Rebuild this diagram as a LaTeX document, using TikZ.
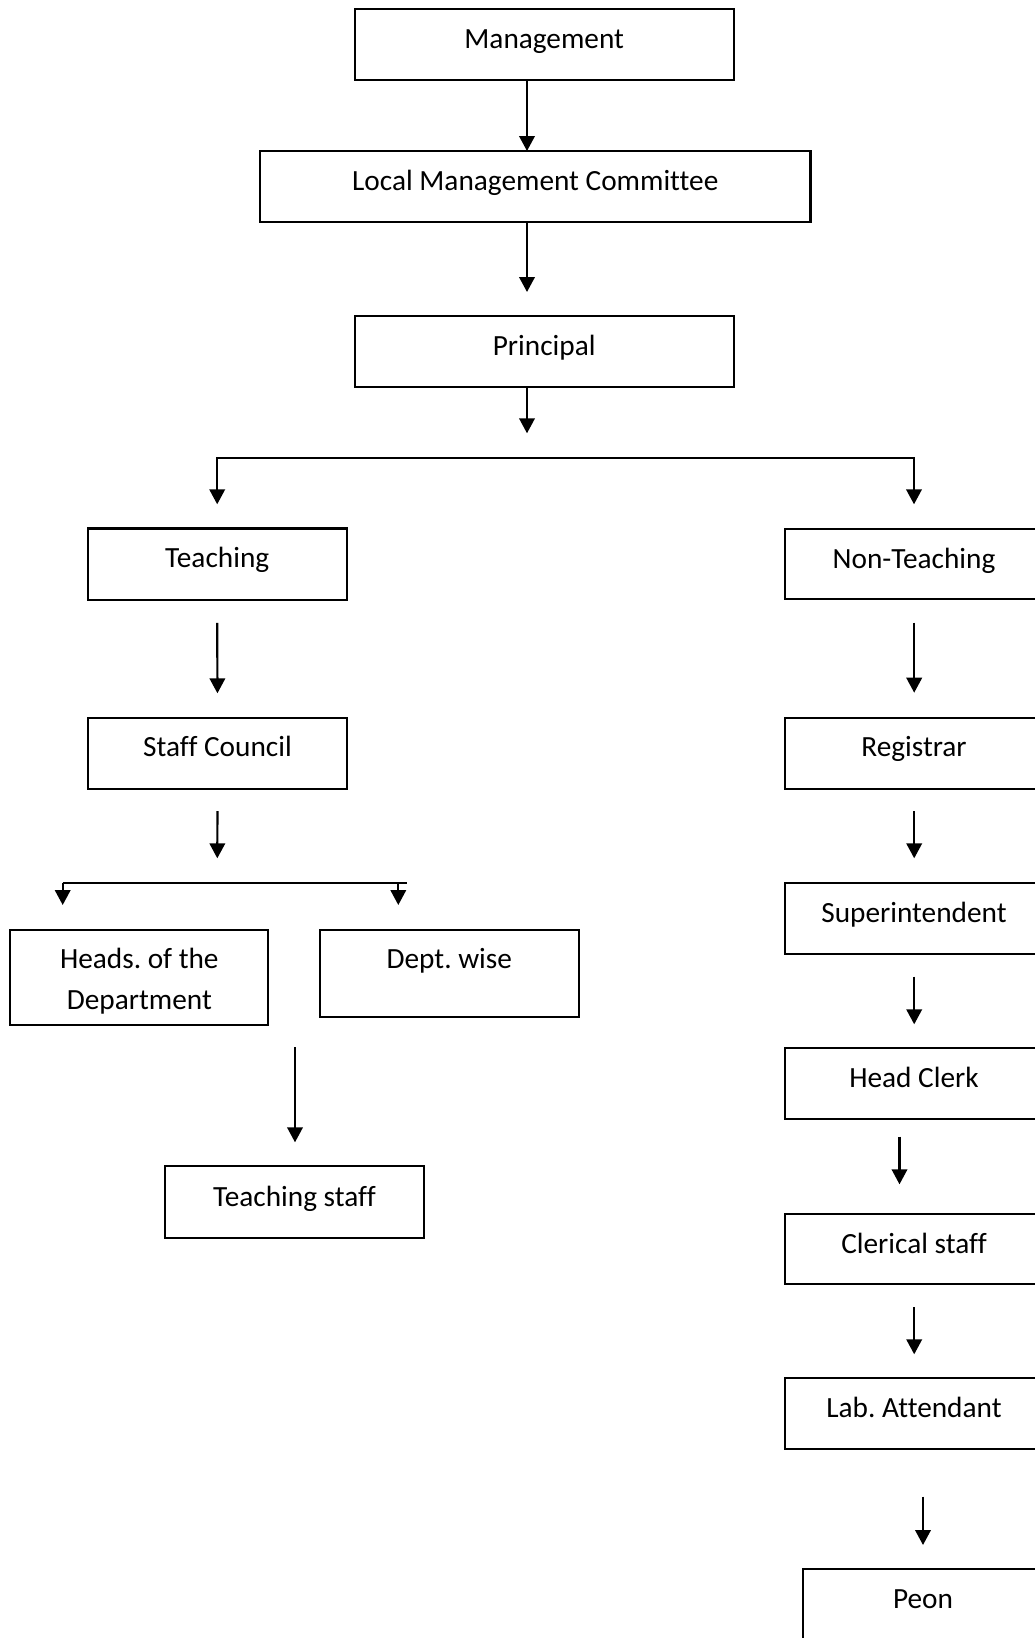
\documentclass[tikz,border=0pt]{standalone}
\usepackage{fontspec}
\setmainfont{Carlito}[Ligatures=NoCommon]
\frenchspacing
\usetikzlibrary{arrows.meta,calc}
\begin{document}
\begin{tikzpicture}[x=1pt,y=-1pt,
  box/.style={draw, line width=2.1pt, inner sep=0pt, outer sep=0pt},
  lbl/.style={anchor=base, inner sep=0pt, font=\fontsize{29.3}{40}\selectfont},
  conn/.style={line width=2.2pt},
  arr/.style={line width=2.2pt, -{Triangle[width=15.5pt,length=15pt]}}]
\useasboundingbox (0,0) rectangle (1035,1638);
\clip (0,0) rectangle (1035,1638);
% --- top column
\node[box, minimum width=379pt, minimum height=70.7pt] (mgmt) at (544.2,44.65) {};
\node[lbl] (mgmtT) at ($(mgmt.north)+(0,39)$) {Management};
\node[box, minimum width=550.5pt, minimum height=70.7pt] (lmc) at (535.25,186.35) {};
\node[lbl] (lmcT) at ($(lmc.north)+(0,39)$) {Local Management Committee};
\node[box, minimum width=379pt, minimum height=71pt] (princ) at (544.2,351.8) {};
\node[lbl] (princT) at ($(princ.north)+(0,39)$) {Principal};
% --- teaching branch
\node[box, minimum width=259pt, minimum height=71.3pt] (teach) at (217.2,564.15) {};
\node[lbl] (teachT) at ($(teach.north)+(0,39)$) {Teaching};
\node[box, minimum width=259pt, minimum height=71.3pt] (staff) at (217.5,753.35) {};
\node[lbl] (staffT) at ($(staff.north)+(0,39)$) {Staff Council};
\node[box, minimum width=258.1pt, minimum height=94.7pt] (heads) at (139.35,977.35) {};
\node[lbl] (headsT1) at ($(heads.north)+(0,38.5)$) {Heads. of the};
\node[lbl] (headsT2) at ($(heads.north)+(0,79)$) {Department};
\node[box, minimum width=258.6pt, minimum height=87pt] (dept) at (449.3,973.5) {};
\node[lbl] (deptT) at ($(dept.north)+(0,38.5)$) {Dept. wise};
\node[box, minimum width=258.5pt, minimum height=71.7pt] (tstaff) at (294.45,1201.85) {};
\node[lbl] (tstaffT) at ($(tstaff.north)+(0,40)$) {Teaching staff};
% --- non-teaching branch
\node[box, minimum width=258.6pt, minimum height=70.3pt] (nonteach) at (914,564.15) {};
\node[lbl] (nonteachT) at ($(nonteach.north)+(0,39)$) {Non-Teaching};
\node[box, minimum width=258.6pt, minimum height=71pt] (reg) at (914,753.2) {};
\node[lbl] (regT) at ($(reg.north)+(0,39)$) {Registrar};
\node[box, minimum width=258.6pt, minimum height=70.7pt] (super) at (914,918.65) {};
\node[lbl] (superT) at ($(super.north)+(0,39)$) {Superintendent};
\node[box, minimum width=258.6pt, minimum height=71pt] (hc) at (914,1083.8) {};
\node[lbl] (hcT) at ($(hc.north)+(0,39)$) {Head Clerk};
\node[box, minimum width=258.6pt, minimum height=70.3pt] (cler) at (914,1249.15) {};
\node[lbl] (clerT) at ($(cler.north)+(0,39)$) {Clerical staff};
\node[box, minimum width=258.6pt, minimum height=71pt] (lab) at (914,1413.8) {};
\node[lbl] (labT) at ($(lab.north)+(0,39)$) {Lab. Attendant};
\node[box, minimum width=240.6pt, minimum height=71pt] (peon) at (923,1604.8) {};
\node[lbl] (peonT) at ($(peon.north)+(0,39)$) {Peon};
% --- connectors, top
\coordinate (ax) at (527,0);
\draw[arr] (mgmt.south -| ax) -- (lmc.north -| ax);
\draw[arr, shorten >=24.3pt] (lmc.south -| ax) -- (princ.north -| ax);
\coordinate (ptip) at (527,433.3);
\draw[arr] (princ.south -| ax) -- (ptip);
\coordinate (bar) at (527,458.3);
\draw[arr, shorten >=24.2pt] (bar) -| (teach.north);
\draw[arr, shorten >=24.7pt] (bar) -| (nonteach.north);
% --- teaching side
\draw[arr, shorten <=23pt, shorten >=24.4pt] (teach.south) -- (staff.north);
\coordinate (sctip) at (217.3,858.3);
\draw[arr, shorten <=22pt] (staff.south) -- (sctip);
\coordinate (b2l) at (62.7,883.3);
\coordinate (b2r) at (406.7,883.3);
\coordinate (b2a) at (398.3,883.3);
\draw[conn] (b2l) -- (b2r);
\draw[arr, shorten >=25pt] (b2l) -- (b2l |- heads.north);
\draw[arr, shorten >=25pt] (b2a) -- (b2a |- dept.north);
\coordinate (tx) at (295,0);
\draw[arr, shorten <=22.6pt, shorten >=23.7pt] (heads.south -| tx) -- (tstaff.north -| tx);
% --- non-teaching side
\coordinate (rx) at (914.2,0);
\draw[arr, shorten <=23.4pt, shorten >=25pt] (nonteach.south -| rx) -- (reg.north -| rx);
\draw[arr, shorten <=22.3pt, shorten >=25pt] (reg.south -| rx) -- (super.north -| rx);
\draw[arr, shorten <=22.7pt, shorten >=24pt] (super.south -| rx) -- (hc.north -| rx);
\coordinate (hx) at (899.5,0);
\draw[arr, shorten <=17.4pt, shorten >=29.7pt] (hc.south -| hx) -- (cler.north -| hx);
\draw[arr, shorten <=23pt, shorten >=24pt] (cler.south -| rx) -- (lab.north -| rx);
\coordinate (px) at (923,0);
\draw[arr, shorten <=47.4pt, shorten >=24.3pt] (lab.south -| px) -- (peon.north -| px);
\end{tikzpicture}
\end{document}
